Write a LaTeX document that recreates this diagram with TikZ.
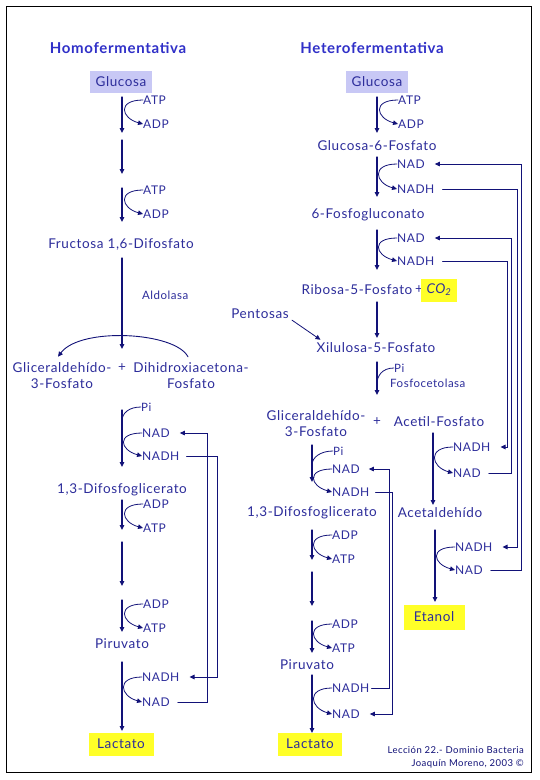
\documentclass[tikz,border=0pt]{standalone}
\usepackage{fontspec}
\setmainfont{Lato}[LetterSpace=4.5]
\usetikzlibrary{arrows.meta}
\definecolor{navy}{RGB}{18,18,120}
\definecolor{inkblue}{RGB}{45,45,155}
\definecolor{titleblue}{RGB}{48,48,200}
\definecolor{lavbox}{RGB}{200,200,245}
\definecolor{hilite}{RGB}{255,255,40}

\tikzset{
  loopto/.style={to path={.. controls +(-26,0) and +(-22,-6) .. (\tikztotarget)}},
  tailto/.style={to path={.. controls +(-12,0) and +(0,-8) .. (\tikztotarget)}}
}

\begin{document}
\begin{tikzpicture}[x=1pt,y=-1pt,>={Triangle[length=5pt,width=4.6pt]},
  font=\fontsize{12}{14}\selectfont,text=inkblue,line cap=round,
  met/.style={inner sep=0pt,align=center,font=\fontsize{13.5}{16}\selectfont},
  cof/.style={anchor=west,inner sep=0pt},
  small/.style={anchor=west,inner sep=0pt,font=\fontsize{11.5}{13}\selectfont},
  ttl/.style={font=\fontsize{15}{17}\selectfont\bfseries,text=titleblue},
  lbox/.style={fill=lavbox,minimum width=62pt,minimum height=22pt,inner sep=0pt,font=\fontsize{13.5}{16}\selectfont},
  ybox/.style={fill=hilite,minimum height=23pt,inner sep=0pt,font=\fontsize{13.5}{16}\selectfont},
  main/.style={navy,line width=1.2pt,->},
  loopa/.style={navy,line width=0.8pt,->,loopto},
  loopb/.style={navy,line width=0.8pt,tailto},
  fb/.style={navy,line width=0.9pt,->}]
\fill[white] (0,0) rectangle (540,780);
\useasboundingbox (0,0) rectangle (540,780);
\draw[black,line width=0.8pt] (6,6) rectangle (531,772);

% Homofermentativa
\node[ttl] (titleH) at (118,48) {Homofermentativa};
\node[lbox] (glcH) at (121,82) {Glucosa};
\node[cof] (atpH1) at (143,100) {ATP};
\node[cof] (adpH1) at (143,124) {ADP};
\node[cof] (atpH2) at (143,190) {ATP};
\node[cof] (adpH2) at (143,214) {ADP};
\node[met] (fdpH) at (121,244) {Fructosa 1,6-Difosfato};
\node[small] (aldH) at (142,295) {Aldolasa};
\node[met] (gapH) at (62,376) {Gliceraldehído-\\3-Fosfato};
\node[met] (plusH) at (122,368) {+};
\node[met] (dhapH) at (191,376) {Dihidroxiacetona-\\Fosfato};
\node[small] (piH) at (141,407) {Pi};
\node[cof] (nadH1) at (142,433) {NAD};
\node[cof] (nadhH1) at (142,456) {NADH};
\node[met] (bpgH) at (122,490) {1,3-Difosfoglicerato};
\node[cof] (adpH3) at (143,504) {ADP};
\node[cof] (atpH3) at (143,528) {ATP};
\node[cof] (adpH4) at (143,604) {ADP};
\node[cof] (atpH4) at (143,628) {ATP};
\node[met] (pirH) at (122,644) {Piruvato};
\node[cof] (nadhH2) at (142,677) {NADH};
\node[cof] (nadH2) at (142,702) {NAD};
\node[ybox,minimum width=65pt] (lacH) at (121,744) {Lactato};

% Heterofermentativa
\node[ttl] (titleR) at (372,48) {Heterofermentativa};
\node[lbox] (glcR) at (377,82) {Glucosa};
\node[cof] (atpR1) at (398,100) {ATP};
\node[cof] (adpR1) at (398,124) {ADP};
\node[met] (g6pR) at (377,146) {Glucosa-6-Fosfato};
\node[cof] (nadR1) at (397,164) {NAD};
\node[cof] (nadhR1) at (397,189) {NADH};
\node[met] (pgR) at (368,215) {6-Fosfogluconato};
\node[cof] (nadR2) at (397,238) {NAD};
\node[cof] (nadhR2) at (397,261) {NADH};
\node[met] (r5pR) at (357,290) {Ribosa-5-Fosfato};
\node[met] (plusR1) at (419,290) {+};
\node[ybox,minimum width=36pt] (co2R) at (439,290) {\textit{CO\textsubscript{2}}};
\node[met] (pentR) at (260,314) {Pentosas};
\node[met] (x5pR) at (376,348) {Xilulosa-5-Fosfato};
\node[small] (piR) at (394,368) {Pi};
\node[small] (fkR) at (390,383) {Fosfocetolasa};
\node[met] (gapR) at (316,424) {Gliceraldehído-\\3-Fosfato};
\node[met] (plusR2) at (377,422) {+};
\node[met] (acpR) at (439,422) {Acetil-Fosfato};
\node[small] (piM) at (333,451) {Pi};
\node[cof] (nadM1) at (332,469) {NAD};
\node[cof] (nadhM1) at (332,492) {NADH};
\node[met] (bpgR) at (312,513) {1,3-Difosfoglicerato};
\node[cof] (adpM1) at (332,535) {ADP};
\node[cof] (atpM1) at (332,559) {ATP};
\node[cof] (adpM2) at (332,624) {ADP};
\node[cof] (atpM2) at (332,648) {ATP};
\node[met] (pirR) at (307,665) {Piruvato};
\node[cof] (nadhM2) at (332,688) {NADH};
\node[cof] (nadM2) at (332,714) {NAD};
\node[ybox,minimum width=64pt] (lacR) at (310,744) {Lactato};
\node[cof] (nadhA1) at (453,447) {NADH};
\node[cof] (nadA1) at (453,473) {NAD};
\node[met] (acdR) at (440,513) {Acetaldehído};
\node[cof] (nadhA2) at (455,547) {NADH};
\node[cof] (nadA2) at (455,570) {NAD};
\node[ybox,minimum width=61pt,minimum height=25pt] (etR) at (434,617) {Etanol};

\node[anchor=east,inner sep=0pt,font=\fontsize{9.5}{11}\selectfont,text=navy] (foot1) at (524,750) {Lección 22.- Dominio Bacteria};
\node[anchor=east,inner sep=0pt,font=\fontsize{9.5}{11}\selectfont,text=navy] (foot2) at (524,764) {Joaquín Moreno, 2003 ©};

% main steps
\foreach \n/\x/\a/\b in {h1/122/97/133,h2/122/140/174,h3/122/188/222,h4/122/258/349,
    h5/122/410/467,h6/122/500/530,h7/122/542/586,h8/122/600/632,h9/122/662/731,
    r1/377/97/133,r2/377/157/197,r3/377/230/270,r4/377/302/338,r5/377/362/395,
    m1/312/445/482,m2/312/530/560,m3/312/572/606,m4/312/621/653,m5/312/675/733,
    a1/433/433/505,a2/435/530/602}
  \draw[main] (\x,\a) coordinate (\n a) -- (\x,\b) coordinate (\n b);

% cofactor loops
\foreach \u/\v in {atpH1/adpH1,atpH2/adpH2,nadH1/nadhH1,adpH3/atpH3,adpH4/atpH4,nadhH2/nadH2,
    atpR1/adpR1,nadR1/nadhR1,nadR2/nadhR2,nadM1/nadhM1,adpM1/atpM1,adpM2/atpM2,nadhM2/nadM2,
    nadhA1/nadA1,nadhA2/nadA2}
  \draw[loopa] (\u.west) to (\v.west);
\coordinate (piHend) at (122,421);
\coordinate (piRend) at (377,384);
\coordinate (piMend) at (312,465);
\draw[loopb] (piH.west) to (piHend);
\draw[loopb] (piR.west) to (piRend);
\draw[loopb] (piM.west) to (piMend);

% split and side entry
\draw[navy,line width=0.9pt,->] ([shift={(-3,-6)}]dhapH.north) .. controls +(-13,-25) and +(22,-30) .. ([shift={(-4,-6)}]gapH.north);
\draw[navy,line width=0.8pt,->] ([shift={(3,1)}]pentR.south east) -- ([shift={(4,-3)}]x5pR.north west);

% NAD / NADH return lines
\coordinate (fbH1) at (207,0);
\coordinate (fbH2) at (217,0);
\draw[fb] ([xshift=8pt]nadH2.east) -| (fbH1 |- nadH1.east) -- ([xshift=10pt]nadH1.east);
\draw[fb] ([xshift=7pt]nadhH1.east) -| (fbH2 |- nadhH2.east) -- ([xshift=10pt]nadhH2.east);
\coordinate (fbM1) at (389,0);
\coordinate (fbM2) at (392,0);
\draw[fb] ([xshift=2pt]nadhM2.east) -| (fbM1 |- nadM1.east) -- ([xshift=9pt]nadM1.east);
\draw[fb] ([xshift=6pt]nadhM1.east) -| (fbM2 |- nadM2.east) -- ([xshift=10pt]nadM2.east);
\coordinate (fbR1) at (521,0);
\coordinate (fbR2) at (517,0);
\coordinate (fbR3) at (511,0);
\coordinate (fbR4) at (507,0);
\draw[fb] ([xshift=8pt]nadA2.east) -| (fbR1 |- nadR1.east) -- ([xshift=10pt]nadR1.east);
\draw[fb] ([xshift=8pt]nadhR1.east) -| (fbR2 |- nadhA2.east) -- ([xshift=10pt]nadhA2.east);
\draw[fb] ([xshift=8pt]nadA1.east) -| (fbR3 |- nadR2.east) -- ([xshift=10pt]nadR2.east);
\draw[fb] ([xshift=8pt]nadhR2.east) -| (fbR4 |- nadhA1.east) -- ([xshift=10pt]nadhA1.east);
\end{tikzpicture}
\end{document}
